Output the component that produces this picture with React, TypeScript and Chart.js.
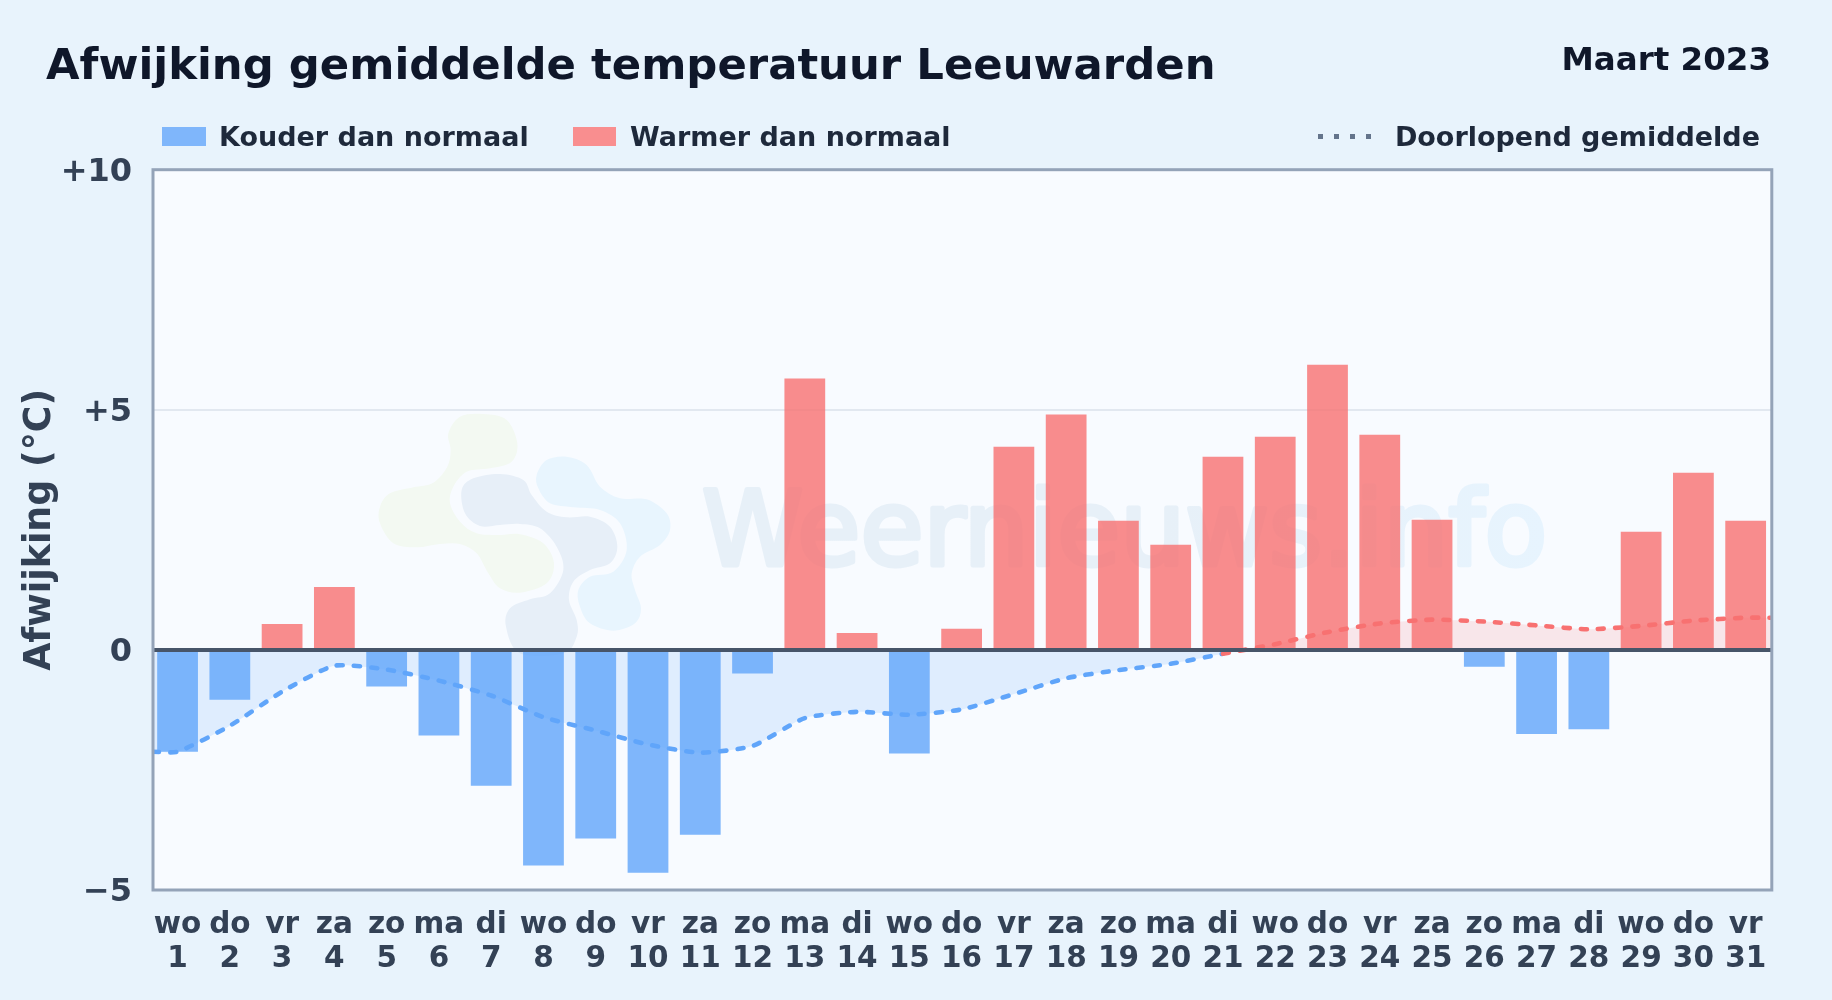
import React, { useEffect, useRef } from "react";
import { Chart, registerables } from "chart.js";

Chart.register(...registerables);

const weekdays = ["wo","do","vr","za","zo","ma","di","wo","do","vr","za","zo","ma","di","wo","do","vr","za","zo","ma","di","wo","do","vr","za","zo","ma","di","wo","do","vr"];
const days = [1,2,3,4,5,6,7,8,9,10,11,12,13,14,15,16,17,18,19,20,21,22,23,24,25,26,27,28,29,30,31];
const deviations = [-2.12,-1.04,0.54,1.31,-0.76,-1.78,-2.83,-4.49,-3.93,-4.64,-3.85,-0.49,5.65,0.35,-2.16,0.44,4.23,4.9,2.69,2.19,4.02,4.44,5.94,4.48,2.71,-0.35,-1.75,-1.65,2.46,3.69,2.69];
const runningMean = [-2.12,-1.58,-0.87,-0.33,-0.41,-0.64,-0.95,-1.4,-1.68,-1.97,-2.14,-2.0,-1.42,-1.29,-1.35,-1.24,-0.92,-0.59,-0.42,-0.29,-0.08,0.12,0.37,0.55,0.63,0.59,0.51,0.43,0.5,0.61,0.67];
const yTicks = [-5, 0, 5, 10];
const yTickLabels = ["\u22125", "0", "+5", "+10"];

const TITLE = "Afwijking gemiddelde temperatuur Leeuwarden";
const PERIOD = "Maart 2023";
const LEGEND_COLD = "Kouder dan normaal";
const LEGEND_WARM = "Warmer dan normaal";
const LEGEND_LINE = "Doorlopend gemiddelde";
const Y_TITLE = "Afwijking (\u00b0C)";
const WATERMARK = "Weernieuws.info";

const FONT = '"DejaVu Sans", sans-serif';
const COLD_BAR = "rgba(96,165,250,0.8)";
const WARM_BAR = "rgba(248,113,113,0.8)";
const COLD_LINE = "#60a5fa";
const WARM_LINE = "#f87171";

const logoGreen = [[265,100],[300,50],[370,42],[440,60],[472,130],[455,185],[390,205],[320,215],[280,260],[270,310],[300,365],[350,400],[420,405],[480,403],[550,430],[582,490],[560,550],[480,578],[420,565],[385,520],[350,460],[300,432],[240,432],[170,442],[100,430],[60,370],[60,320],[90,280],[160,262],[220,248],[262,200],[272,150]];
const logoNavy = [[305,270],[340,235],[420,222],[490,240],[515,285],[560,335],[620,352],[690,350],[750,380],[772,440],[750,490],[690,510],[640,545],[627,600],[650,660],[650,710],[610,760],[480,760],[438,680],[450,625],[510,598],[570,580],[610,510],[590,440],[540,385],[480,372],[420,375],[360,378],[315,340]];
const logoBlue = [[530,225],[560,180],[620,170],[680,195],[720,260],[780,295],[860,298],[920,340],[930,390],[900,435],[840,470],[815,520],[825,570],[843,625],[825,670],[760,692],[690,670],[660,620],[655,570],[690,530],[760,515],[800,450],[780,370],[720,330],[640,322],[570,310],[535,265]];

function blob(ctx: CanvasRenderingContext2D, pts: number[][], color: string) {
  const P = pts.map(([x, y]) => [360 + x / 3, 400 + y / 3]);
  const n = P.length;
  ctx.beginPath();
  ctx.moveTo(P[0][0], P[0][1]);
  for (let i = 0; i < n; i++) {
    const p0 = P[(i - 1 + n) % n], p1 = P[i], p2 = P[(i + 1) % n], p3 = P[(i + 2) % n];
    ctx.bezierCurveTo(p1[0] + (p2[0] - p0[0]) / 6, p1[1] + (p2[1] - p0[1]) / 6, p2[0] - (p3[0] - p1[0]) / 6, p2[1] - (p3[1] - p1[1]) / 6, p2[0], p2[1]);
  }
  ctx.closePath();
  ctx.fillStyle = color;
  ctx.fill();
}

const backdrop = {
  id: "backdrop",
  beforeDraw(chart: any) {
    const { ctx, chartArea: a } = chart;
    ctx.save();
    ctx.fillStyle = "#f8fbff";
    ctx.fillRect(a.left, a.top, a.right - a.left, a.bottom - a.top);
    ctx.beginPath();
    ctx.rect(a.left, a.top, a.right - a.left, a.bottom - a.top);
    ctx.clip();
    blob(ctx, logoGreen, "#f3f9f2");
    blob(ctx, logoNavy, "#e7eff8");
    blob(ctx, logoBlue, "#e8f5fe");
    const g = ctx.createLinearGradient(702, 0, 1546, 0);
    g.addColorStop(0, "#e7f0f8");
    g.addColorStop(0.55, "#e7f0f8");
    g.addColorStop(1, "#e7f4fe");
    ctx.font = `normal 102.5px ${FONT}`;
    ctx.textBaseline = "alphabetic";
    ctx.textAlign = "left";
    ctx.fillStyle = g;
    ctx.strokeStyle = g;
    ctx.lineWidth = 5;
    ctx.lineJoin = "round";
    ctx.fillText(WATERMARK, 702, 565);
    ctx.strokeText(WATERMARK, 702, 565);
    ctx.restore();
  },
};

const frame = {
  id: "frame",
  afterDatasetsDraw(chart: any) {
    const { ctx, chartArea: a, scales } = chart;
    ctx.save();
    const zero = scales.y.getPixelForValue(0);
    ctx.strokeStyle = "#475569";
    ctx.lineWidth = 4;
    ctx.beginPath();
    ctx.moveTo(a.left, zero);
    ctx.lineTo(a.right, zero);
    ctx.stroke();
    ctx.strokeStyle = "#94a3b8";
    ctx.lineWidth = 3;
    ctx.strokeRect(a.left, a.top, a.right - a.left, a.bottom - a.top);
    ctx.restore();
  },
};

const abs = (o: any): any => ({ position: "absolute", whiteSpace: "nowrap", fontFamily: FONT, fontWeight: 700, lineHeight: 1, ...o });

export default function App() {
  const ref = useRef<HTMLCanvasElement | null>(null);
  useEffect(() => {
    const linePoints = [
      { x: 0.53, y: runningMean[0] },
      ...days.map((d, i) => ({ x: d, y: runningMean[i] })),
      { x: 31.5, y: runningMean[runningMean.length - 1] },
    ];
    const chart = new Chart(ref.current as HTMLCanvasElement, {
      type: "bar",
      data: {
        datasets: [
          {
            type: "line",
            label: LEGEND_LINE,
            order: 0,
            data: linePoints,
            tension: 0.2,
            borderWidth: 4.6,
            borderDash: [6, 11.2],
            borderCapStyle: "round",
            pointRadius: 0,
            borderColor: COLD_LINE,
            segment: { borderColor: (c: any) => (c.p1.parsed.y >= 0 ? WARM_LINE : COLD_LINE) },
            fill: { target: { value: 0 }, above: "rgba(248,113,113,0.15)", below: "rgba(96,165,250,0.16)" },
          } as any,
          {
            type: "bar",
            label: LEGEND_WARM,
            order: 1,
            data: days.map((d, i) => ({ x: d, y: deviations[i] })),
            backgroundColor: (c: any) => ((c.parsed?.y ?? 0) >= 0 ? WARM_BAR : COLD_BAR),
            barPercentage: 0.78,
            categoryPercentage: 1,
          } as any,
        ],
      },
      options: {
        animation: false,
        responsive: false,
        layout: { padding: { top: 169.7, right: 60.2, bottom: 0, left: 0 } },
        plugins: {
          legend: { display: false },
          tooltip: { enabled: false },
          filler: { drawTime: "beforeDatasetsDraw" },
        } as any,
        scales: {
          x: {
            type: "linear",
            offset: false,
            min: 0.53,
            max: 31.5,
            afterBuildTicks: (s: any) => { s.ticks = days.map((d) => ({ value: d })); },
            afterFit: (s: any) => { s.height = 110; },
            border: { display: false },
            grid: { display: false },
            ticks: {
              autoSkip: false,
              maxRotation: 0,
              minRotation: 0,
              padding: 10.5,
              color: "#334155",
              font: { family: FONT, weight: "bold", size: 29.5, lineHeight: 1.15 },
              callback: (v: any) => [weekdays[Number(v) - 1], String(v)],
            },
          },
          y: {
            min: -5,
            max: 10,
            afterBuildTicks: (s: any) => { s.ticks = yTicks.map((v) => ({ value: v })); },
            afterFit: (s: any) => { s.width = 153; },
            border: { display: false },
            grid: { color: "#e2e8f0", lineWidth: 2, drawTicks: false },
            title: {
              display: true,
              text: Y_TITLE,
              color: "#334155",
              font: { family: FONT, weight: "bold", size: 36.4 },
              padding: { top: 19, bottom: 0 },
            },
            ticks: {
              padding: 21,
              labelOffset: 3,
              color: "#334155",
              font: { family: FONT, weight: "bold", size: 32 },
              callback: (v: any) => yTickLabels[yTicks.indexOf(Number(v))],
            },
          },
        },
      },
      plugins: [backdrop, frame],
    } as any);
    return () => chart.destroy();
  }, []);

  return (
    <div style={{ position: "absolute", left: 0, top: 0, width: 1832, height: 1000, overflow: "hidden", background: "#e8f3fc" }}>
      <canvas ref={ref} width={1832} height={1000} style={{ position: "absolute", left: 0, top: 0, width: 1832, height: 1000 }} />
      <div style={abs({ left: 46, top: 80 - 0.846 * 43.4, fontSize: 43.35, color: "#0f172a" })}>{TITLE}</div>
      <div style={abs({ right: 61, top: 70 - 0.846 * 32.5, fontSize: 32.5, color: "#0f172a" })}>{PERIOD}</div>
      <div style={{ position: "absolute", left: 162, top: 127, width: 44, height: 19, background: "#7fb6fb" }} />
      <div style={abs({ left: 219, top: 146 - 0.846 * 27, fontSize: 27, color: "#1e293b" })}>{LEGEND_COLD}</div>
      <div style={{ position: "absolute", left: 573, top: 127, width: 43, height: 19, background: "#f98e8f" }} />
      <div style={abs({ left: 630, top: 146 - 0.846 * 27, fontSize: 27, color: "#1e293b" })}>{LEGEND_WARM}</div>
      {[0, 1, 2, 3].map((i) => (
        <div key={i} style={{ position: "absolute", left: 1318 + i * 16, top: 134, width: 5, height: 5, background: "#64748b" }} />
      ))}
      <div style={abs({ right: 72, top: 146 - 0.846 * 27, fontSize: 27, color: "#1e293b" })}>{LEGEND_LINE}</div>
    </div>
  );
}
